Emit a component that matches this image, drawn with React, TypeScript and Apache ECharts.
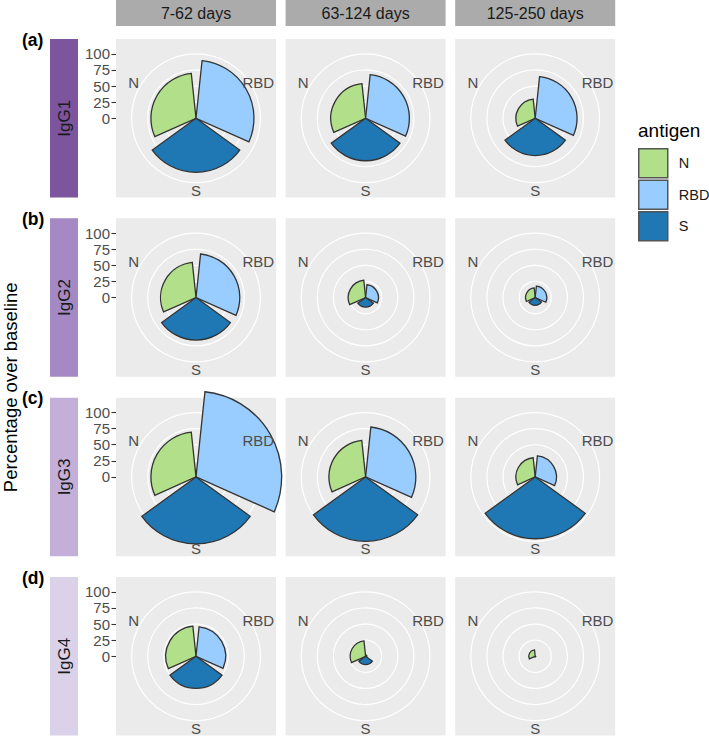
import React, { useEffect, useRef } from 'react';
import * as echarts from 'echarts';

const periods = ['7-62 days', '63-124 days', '125-250 days'];
const isotypes = ['IgG1', 'IgG2', 'IgG3', 'IgG4'];
const tags = ['(a)', '(b)', '(c)', '(d)'];
const antigens = ['N', 'RBD', 'S'];
const angleOrder = ['RBD', 'S', 'N'];
const radialTicks = [0, 25, 50, 75, 100];

// rows: IgG1..IgG4, columns: 7-62, 63-124, 125-250 days
const valuesN = [
  [70, 54, 30],
  [55, 27, 15],
  [70, 57, 30],
  [47, 24, 10],
];
const valuesRBD = [
  [90, 68, 65],
  [68, 20, 18],
  [133, 78, 33],
  [46, 2, 0],
];
const valuesS = [
  [84, 66, 58],
  [66, 15, 12],
  [104, 100, 96],
  [50, 13, 1],
];

const antigenColors: Record<string, string> = { N: '#B2DF8A', RBD: '#99CCFF', S: '#1F78B4' };
const stripColors = ['#7D559E', '#A589C4', '#C3AFD8', '#DBD2E9'];

const FONT = 'Liberation Sans, Arial, Helvetica, sans-serif';
const colLeft = [116, 285.6, 455.2];
const rowTop = [39, 218.3, 397.7, 577];
const panelW = 160;
const panelH = 158.5;
const R100 = 64.4; // px radius of value 100
const labelR = 72;

function valueFor(a: string, r: number, c: number) {
  if (a === 'N') return valuesN[r][c];
  if (a === 'RBD') return valuesRBD[r][c];
  return valuesS[r][c];
}

export default function App() {
  const ref = useRef<HTMLDivElement>(null);
  useEffect(() => {
    if (!ref.current) return;
    const chart = echarts.init(ref.current, undefined, { renderer: 'svg' });
    const polar: any[] = [];
    const angleAxis: any[] = [];
    const radiusAxis: any[] = [];
    const series: any[] = [];
    const graphic: any[] = [];
    const grid: any[] = [];
    const xAxis: any[] = [];
    const yAxis: any[] = [];

    // top strips
    periods.forEach((p, c) => {
      graphic.push({ type: 'rect', z: -10, shape: { x: colLeft[c], y: 0, width: panelW, height: 26 }, style: { fill: '#ABABAB' }, silent: true });
      graphic.push({ type: 'text', z: 5, x: colLeft[c] + panelW / 2, y: 13.5, style: { text: p, fontSize: 16, fontFamily: FONT, fill: '#1A1A1A', align: 'center', verticalAlign: 'middle', textAlign: 'center', textVerticalAlign: 'middle' }, silent: true });
    });

    isotypes.forEach((iso, r) => {
      const top = rowTop[r];
      const cy = top + panelH / 2;
      // left strip
      graphic.push({ type: 'rect', z: -10, shape: { x: 50, y: top, width: 28, height: panelH }, style: { fill: stripColors[r] }, silent: true });
      graphic.push({ type: 'text', z: 5, x: 64.5, y: cy, rotation: Math.PI / 2, style: { text: iso, fontSize: 17, fontFamily: FONT, fill: '#1A1A1A', align: 'center', verticalAlign: 'middle', textAlign: 'center', textVerticalAlign: 'middle' }, silent: true });
      graphic.push({ type: 'text', z: 5, x: 22, y: top + 0.5, style: { text: tags[r], fontSize: 17.5, fontWeight: 'bold', fontFamily: FONT, fill: '#000', align: 'left', verticalAlign: 'middle', textAlign: 'left', textVerticalAlign: 'middle' }, silent: true });

      // radial tick labels
      grid.push({ left: colLeft[0], top: cy - R100, width: panelW, height: R100, show: false });
      xAxis.push({ gridIndex: r, type: 'value', show: false, min: 0, max: 1 });
      yAxis.push({
        gridIndex: r, type: 'value', min: radialTicks[0], max: radialTicks[radialTicks.length - 1], interval: 25,
        axisLine: { show: false },
        axisTick: { show: true, length: 4.5, lineStyle: { color: '#333333', width: 1.1 } },
        axisLabel: { fontSize: 15, color: '#4D4D4D', margin: 6, fontFamily: FONT },
        splitLine: { show: false },
      });

      periods.forEach((_, c) => {
        const idx = r * 3 + c;
        const cx = colLeft[c] + panelW / 2;
        graphic.push({ type: 'rect', z: -10, shape: { x: colLeft[c], y: top, width: panelW, height: panelH }, style: { fill: '#EBEBEB' }, silent: true });
        polar.push({ center: [cx, cy], radius: R100 });
        angleAxis.push({
          polarIndex: idx, type: 'category', data: angleOrder, startAngle: 90, clockwise: true, boundaryGap: true,
          axisLine: { show: false }, axisTick: { show: false }, axisLabel: { show: false }, splitLine: { show: false },
        });
        radiusAxis.push({
          polarIndex: idx, type: 'value', min: 0, max: 100, interval: 25,
          axisLine: { show: false }, axisTick: { show: false }, axisLabel: { show: false },
          splitLine: { show: true, lineStyle: { color: '#FFFFFF', width: 1.2 } },
        });
        antigens.forEach((a) => {
          series.push({
            type: 'bar', name: a, coordinateSystem: 'polar', polarIndex: idx,
            data: angleOrder.map((k) => (k === a ? valueFor(a, r, c) : '-')),
            barCategoryGap: '10%', barGap: '-100%', clip: false,
            itemStyle: { color: antigenColors[a], borderColor: '#333333', borderWidth: 1.3 },
            emphasis: { disabled: true }, silent: true,
          });
        });
        angleOrder.forEach((k, i) => {
          const th = ((i + 0.5) * 120 * Math.PI) / 180;
          graphic.push({ type: 'text', z: 5, x: cx + labelR * Math.sin(th), y: cy - labelR * Math.cos(th), style: { text: k, fontSize: 15, fontFamily: FONT, fill: '#4D4D4D', align: 'center', verticalAlign: 'middle', textAlign: 'center', textVerticalAlign: 'middle' }, silent: true });
        });
      });
    });

    // y title
    graphic.push({ type: 'text', z: 5, x: 10, y: (rowTop[0] + rowTop[3] + panelH) / 2, rotation: Math.PI / 2, style: { text: 'Percentage over baseline', fontSize: 18.5, fontFamily: FONT, fill: '#000', align: 'center', verticalAlign: 'middle', textAlign: 'center', textVerticalAlign: 'middle' }, silent: true });
    // legend title
    graphic.push({ type: 'text', z: 5, x: 638, y: 130, style: { text: 'antigen', fontSize: 19, fontFamily: FONT, fill: '#000', align: 'left', verticalAlign: 'middle', textAlign: 'left', textVerticalAlign: 'middle' }, silent: true });

    chart.setOption({
      animation: false,
      backgroundColor: '#FFFFFF',
      polar, angleAxis, radiusAxis, grid, xAxis, yAxis, series, graphic,
      legend: {
        data: antigens, orient: 'vertical', left: 638, top: 148, padding: 0, itemWidth: 29, itemHeight: 29, itemGap: 1,
        icon: 'rect', selectedMode: false,
        itemStyle: { borderColor: '#555555', borderWidth: 1.5 },
        textStyle: { fontSize: 14.5, color: '#1A1A1A', fontFamily: FONT, padding: [0, 0, 0, 6] },
      },
    });
    return () => chart.dispose();
  }, []);
  return <div ref={ref} style={{ position: 'fixed', left: 0, top: 0, width: 709, height: 736 }} />;
}
